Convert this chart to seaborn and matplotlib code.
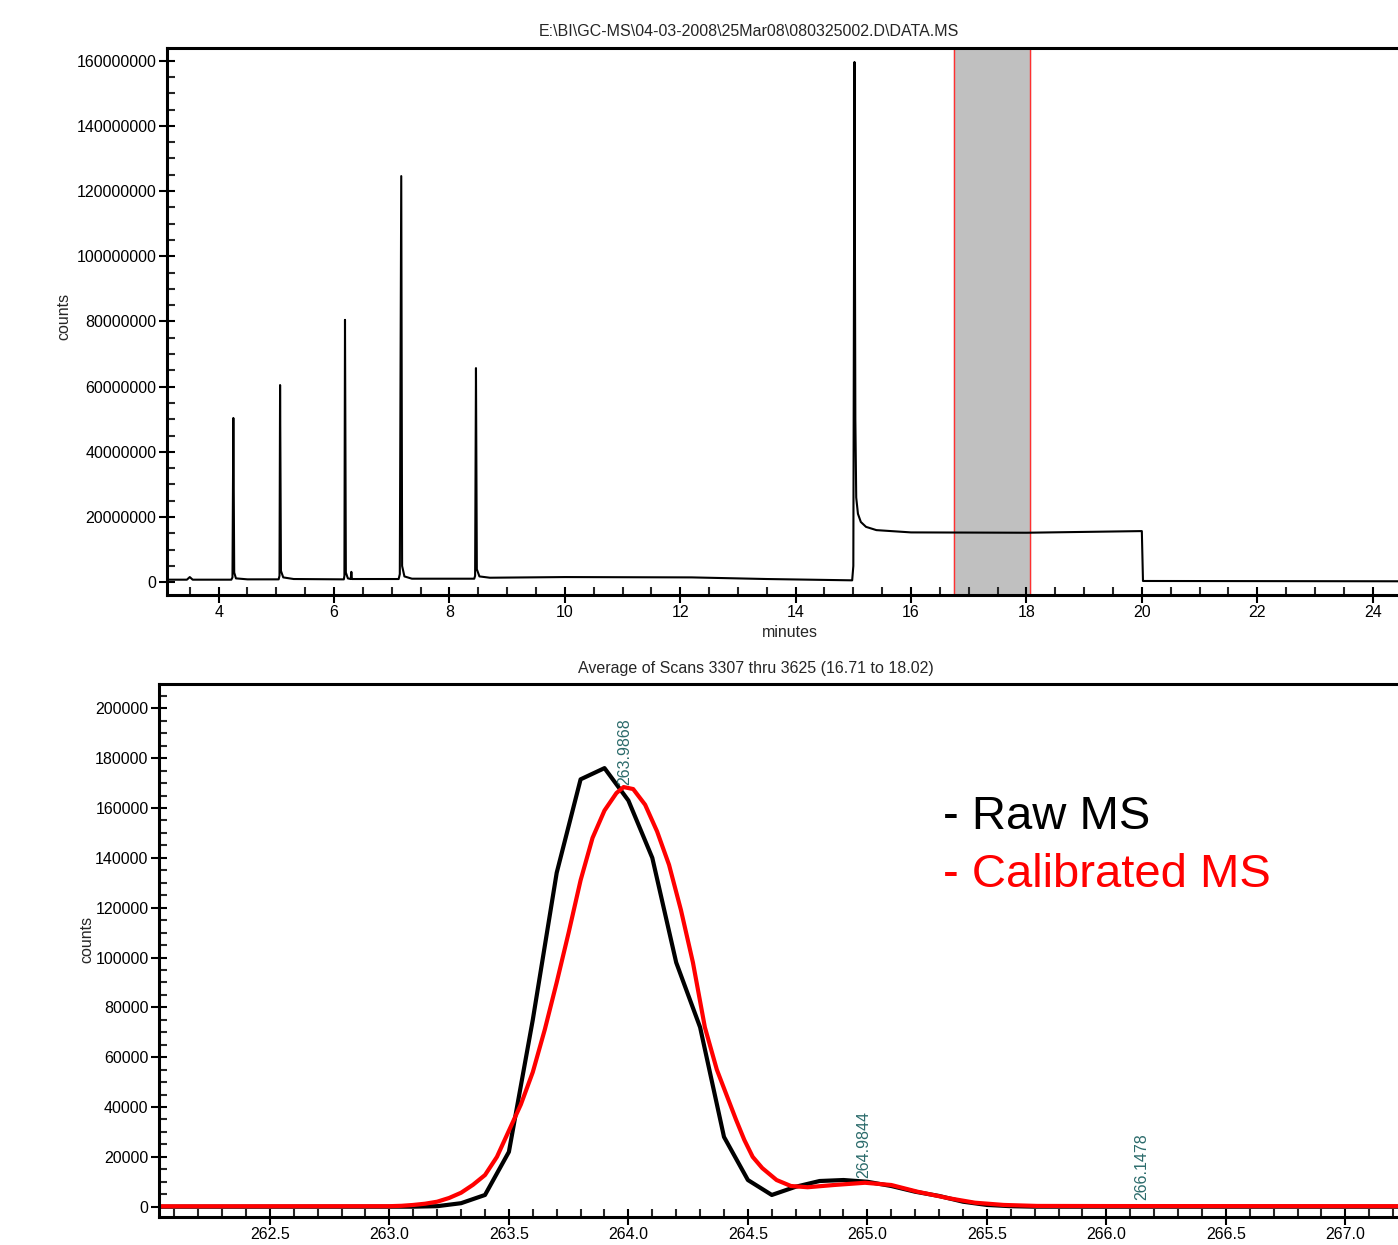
import matplotlib
matplotlib.use("Agg")
import matplotlib.pyplot as plt
import matplotlib.ticker as mticker
import seaborn as sns
import numpy as np
import pandas as pd

# ---- chromatogram (top panel): retention time in minutes, counts in millions
tic_minutes = [3.10, 3.45, 3.50, 3.55, 4.22, 4.24, 4.255, 4.27, 4.30, 4.50,
               5.04, 5.055, 5.065, 5.08, 5.12, 5.30,
               6.17, 6.18, 6.19, 6.205, 6.24, 6.29, 6.30, 6.31,
               7.12, 7.14, 7.165, 7.18, 7.22, 7.35,
               8.43, 8.445, 8.46, 8.475, 8.52, 8.70,
               10.0, 12.2, 13.5, 14.98, 15.0, 15.02, 15.035, 15.05, 15.08,
               15.13, 15.22, 15.40, 16.0, 18.0, 19.98, 20.0, 20.02, 24.9, 25.0]
tic_millions = [0.8, 0.8, 1.6, 0.8, 0.8, 1.5, 50.4, 3.0, 1.2, 0.9,
                0.9, 2.0, 60.5, 3.5, 1.5, 1.0,
                0.9, 2.0, 80.5, 3.0, 1.2, 1.0, 3.2, 1.0,
                1.0, 2.5, 124.6, 5.0, 1.8, 1.1,
                1.1, 2.0, 65.7, 4.0, 1.8, 1.4,
                1.6, 1.5, 1.0, 0.6, 5.0, 159.6, 50.0, 26.0, 21.0,
                18.5, 17.0, 16.0, 15.3, 15.2, 15.7, 15.7, 0.4, 0.3, 0.3]
scan_window = (16.75, 18.07)

# ---- averaged mass spectrum (bottom panel)
raw_mz = [262.0, 263.0, 263.1, 263.2, 263.3, 263.4, 263.5, 263.6, 263.7, 263.8,
          263.9, 264.0, 264.1, 264.2, 264.3, 264.4, 264.5, 264.6, 264.7, 264.8,
          264.9, 265.0, 265.1, 265.2, 265.3, 265.4, 265.5, 265.6, 265.7, 267.3]
raw_counts = [0, 0, 0, 200, 1400, 4700, 22000, 75000, 134000, 171500,
              176000, 163000, 140000, 98000, 72000, 28000, 10700, 4700, 8000, 10300,
              10700, 10000, 8300, 6000, 4300, 2000, 700, 200, 0, 0]

cal_mz = [262.0, 263.0, 263.05, 263.1, 263.15, 263.2, 263.25, 263.3, 263.35, 263.4,
          263.45, 263.5, 263.55, 263.6, 263.65, 263.7, 263.75, 263.8, 263.85, 263.9,
          263.95, 263.98, 264.02, 264.07, 264.12, 264.17, 264.22, 264.27, 264.32, 264.37,
          264.41, 264.45, 264.485, 264.52, 264.56, 264.62, 264.68, 264.75, 264.86, 264.99,
          265.1, 265.21, 265.34, 265.45, 265.57, 265.71, 266.0, 267.3]
cal_counts = [150, 200, 350, 700, 1200, 2000, 3500, 5600, 8800, 12700,
              20000, 30500, 41000, 54000, 71000, 90000, 110000, 131000, 148000, 159000,
              166000, 168400, 167600, 161300, 150600, 137200, 119000, 98000, 72000, 55000,
              45000, 35000, 26800, 20000, 15500, 10700, 8300, 7800, 8700, 9600,
              8700, 6000, 3400, 1600, 700, 300, 250, 200]

peak_labels = ["263.9868", "264.9844", "266.1478"]
peak_label_x = [263.9868, 264.9844, 266.1478]
peak_label_y = [169400, 11500, 2700]

sns.set_theme(style="ticks")
plt.rcParams["font.family"] = ["Liberation Sans", "DejaVu Sans"]

W, H = 1398, 1245
fig = plt.figure(figsize=(W / 100, H / 100), dpi=100)


def px_axes(left, top, right, bottom):
    return fig.add_axes([left / W, 1 - bottom / H, (right - left) / W, (bottom - top) / H])


def style_axes(ax):
    for side in ["top", "left", "bottom", "right"]:
        ax.spines[side].set_visible(True)
        ax.spines[side].set_linewidth(2.2)
        ax.spines[side].set_color("black")
    ax.tick_params(which="major", direction="inout", length=11, width=1.5,
                   labelsize=11.5, colors="black", pad=2)
    ax.tick_params(which="minor", direction="in", length=5.5, width=1.5)
    ax.tick_params(top=False, right=False, which="both")
    ax.grid(False)


# ---------------- top: total ion chromatogram
ax1 = px_axes(166.7, 48.3, 166.7 + (25.0 - 3.1) * 57.7, 595)
tic = pd.DataFrame({"minutes": tic_minutes, "counts": np.array(tic_millions) * 1e6})
ax1.axvspan(scan_window[0], scan_window[1], color="#c0c0c0", zorder=0)
for xv in scan_window:
    ax1.axvline(xv, color="#ff3030", lw=1.0, zorder=1)
sns.lineplot(data=tic, x="minutes", y="counts", ax=ax1, color="black",
             linewidth=1.5, sort=False, estimator=None)
ax1.set_xlim(3.1, 25.0)
ax1.set_ylim(-3.9e6, 163.8e6)
ax1.xaxis.set_major_locator(mticker.MultipleLocator(2))
ax1.xaxis.set_minor_locator(mticker.MultipleLocator(0.5))
ax1.yaxis.set_major_locator(mticker.MultipleLocator(20e6))
ax1.yaxis.set_minor_locator(mticker.MultipleLocator(5e6))
ax1.yaxis.set_major_formatter(mticker.FuncFormatter(lambda v, p: f"{v:.0f}"))
style_axes(ax1)
ax1.set_xlabel("")
ax1.set_ylabel("counts", fontsize=11.5)
ax1.yaxis.set_label_coords(-0.0757, 0.51)
fig.text(790 / W, 1 - 632 / H, "minutes", ha="center", va="center", fontsize=11.5)
fig.text(749 / W, 1 - 32 / H, r"E:\BI\GC-MS\04-03-2008\25Mar08\080325002.D\DATA.MS",
         ha="center", va="center", fontsize=11.5)

# ---------------- bottom: averaged spectrum
ax2 = px_axes(159, 684, 159 + (267.3 - 262.036) * 239, 1217)
raw = pd.DataFrame({"mz": raw_mz, "counts": raw_counts})
cal = pd.DataFrame({"mz": cal_mz, "counts": cal_counts})
sns.lineplot(data=raw, x="mz", y="counts", ax=ax2, color="black", linewidth=3,
             sort=False, estimator=None)
sns.lineplot(data=cal, x="mz", y="counts", ax=ax2, color="red", linewidth=3,
             sort=False, estimator=None)
ax2.set_xlim(262.036, 267.3)
ax2.set_ylim(-4140, 209760)
ax2.xaxis.set_major_locator(mticker.MultipleLocator(0.5))
ax2.xaxis.set_minor_locator(mticker.MultipleLocator(0.1))
ax2.xaxis.set_major_formatter(mticker.FormatStrFormatter("%.1f"))
ax2.yaxis.set_major_locator(mticker.MultipleLocator(20000))
ax2.yaxis.set_minor_locator(mticker.MultipleLocator(5000))
ax2.yaxis.set_major_formatter(mticker.FuncFormatter(lambda v, p: f"{v:.0f}"))
style_axes(ax2)
ax2.set_xlabel("")
ax2.set_ylabel("counts", fontsize=11.5)
ax2.yaxis.set_label_coords(-0.0517, 0.52)
for lab, xv, yv in zip(peak_labels, peak_label_x, peak_label_y):
    ax2.text(xv, yv, lab, rotation=90, ha="center", va="bottom",
             color="#2b6b6b", fontsize=11.5)
fig.text(756 / W, 1 - 668 / H, "Average of Scans 3307 thru 3625 (16.71 to 18.02)",
         ha="center", va="center", fontsize=11.5)
fig.text(943 / W, 1 - 817 / H, "- Raw MS", ha="left", va="center",
         fontsize=34, color="black")
fig.text(943 / W, 1 - 875 / H, "- Calibrated MS", ha="left", va="center",
         fontsize=34, color="red")

fig.savefig("out.png", dpi=100)
plt.close(fig)
